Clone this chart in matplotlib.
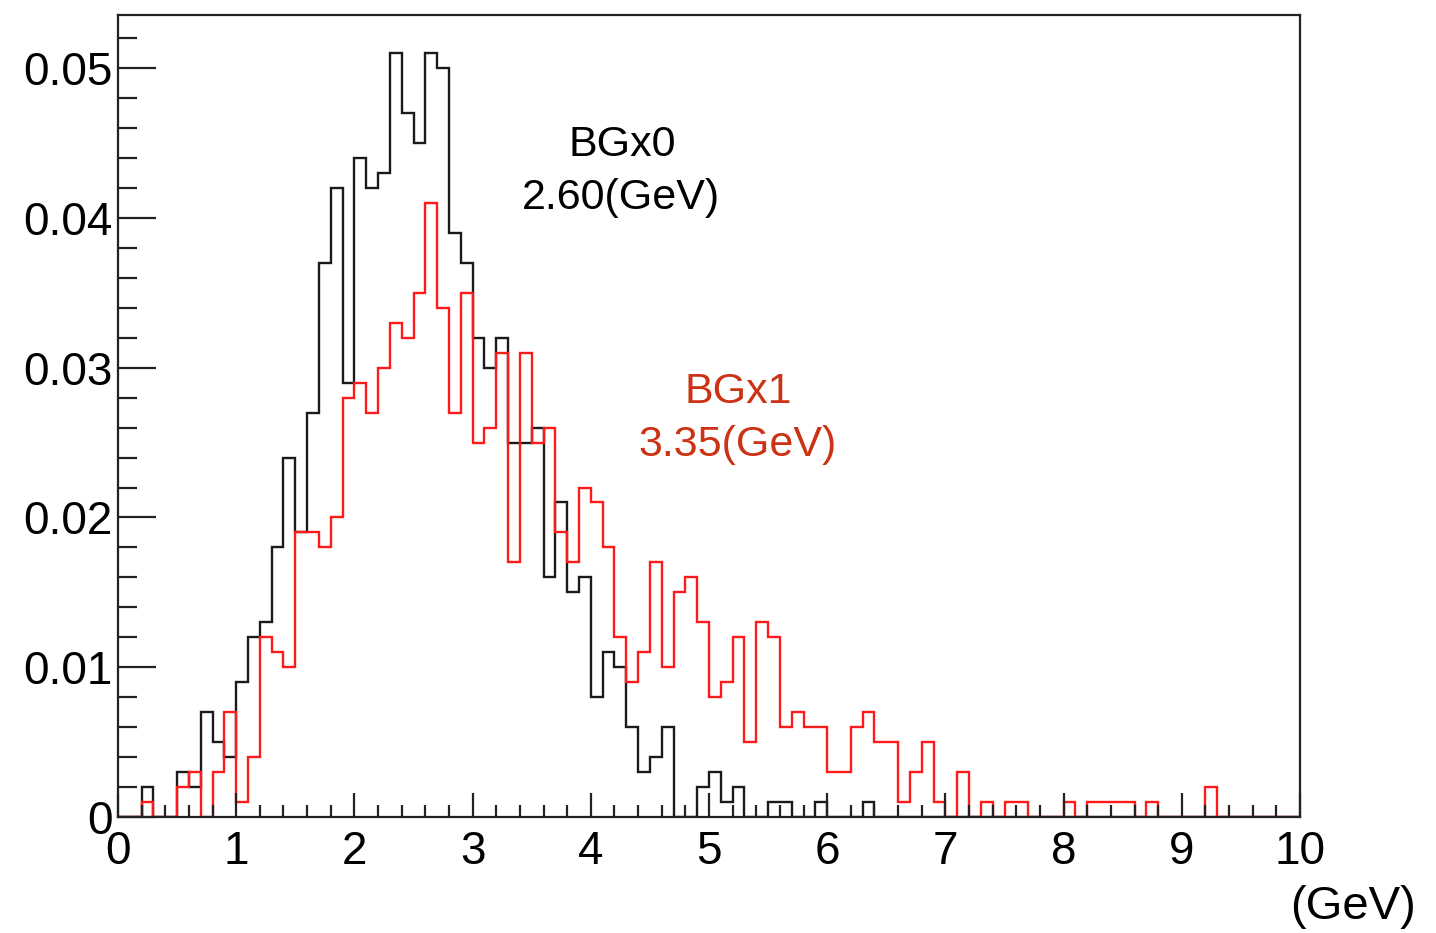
import numpy as np
import matplotlib
matplotlib.use("Agg")
import matplotlib.pyplot as plt
from matplotlib.ticker import MultipleLocator, FixedFormatter, FixedLocator

# Histogram binning: 100 bins of 0.1 GeV on [0, 10]
n_bins = 100
x_range = (0.0, 10.0)

# Normalised bin contents, BG x0 (black)
bg0 = [
    0, 0, 0.002, 0, 0, 0.003, 0.002, 0.007, 0.005, 0.004,
    0.009, 0.012, 0.013, 0.018, 0.024, 0.019, 0.027, 0.037, 0.042, 0.029,
    0.044, 0.042, 0.043, 0.051, 0.047, 0.045, 0.051, 0.050, 0.039, 0.037,
    0.032, 0.030, 0.032, 0.025, 0.025, 0.026, 0.016, 0.021, 0.015, 0.016,
    0.008, 0.011, 0.010, 0.006, 0.003, 0.004, 0.006, 0, 0, 0.002,
    0.003, 0.001, 0.002, 0, 0, 0.001, 0.001, 0, 0, 0.001,
    0, 0, 0, 0.001, 0, 0, 0, 0, 0, 0,
    0, 0, 0, 0, 0, 0, 0, 0, 0, 0,
    0, 0, 0, 0, 0, 0, 0, 0, 0, 0,
    0, 0, 0, 0, 0, 0, 0, 0, 0, 0,
]

# Normalised bin contents, BG x1 (red)
bg1 = [
    0, 0, 0.001, 0, 0, 0.002, 0.003, 0, 0.003, 0.007,
    0.001, 0.004, 0.012, 0.011, 0.010, 0.019, 0.019, 0.018, 0.020, 0.028,
    0.029, 0.027, 0.030, 0.033, 0.032, 0.035, 0.041, 0.034, 0.027, 0.035,
    0.025, 0.026, 0.031, 0.017, 0.031, 0.025, 0.026, 0.019, 0.017, 0.022,
    0.021, 0.018, 0.012, 0.009, 0.011, 0.017, 0.010, 0.015, 0.016, 0.013,
    0.008, 0.009, 0.012, 0.005, 0.013, 0.012, 0.006, 0.007, 0.006, 0.006,
    0.003, 0.003, 0.006, 0.007, 0.005, 0.005, 0.001, 0.003, 0.005, 0.001,
    0, 0.003, 0, 0.001, 0, 0.001, 0.001, 0, 0, 0,
    0.001, 0, 0.001, 0.001, 0.001, 0.001, 0, 0.001, 0, 0,
    0, 0, 0.002, 0, 0, 0, 0, 0, 0, 0,
]

x_tick_labels = ["0", "1", "2", "3", "4", "5", "6", "7", "8", "9", "10"]
y_tick_labels = ["0", "0.01", "0.02", "0.03", "0.04", "0.05"]

label_bg0 = ("BGx0", "2.60(GeV)")
label_bg1 = ("BGx1", "3.35(GeV)")
x_unit = "(GeV)"

plt.rcParams["font.family"] = ["Liberation Sans", "DejaVu Sans"]

W, H = 1436, 933
fig = plt.figure(figsize=(W / 100, H / 100), dpi=100)
L, R, T, B = 118, 1300, 15, 817
ax = fig.add_axes([L / W, 1 - B / H, (R - L) / W, (B - T) / H])

edges = np.linspace(x_range[0], x_range[1], n_bins + 1)
ax.stairs(bg0, edges, baseline=0, fill=False, color="#1a1a1a", lw=1.7)
ax.stairs(bg1, edges, baseline=0, fill=False, color="#ff1a1a", lw=1.7)

ax.set_xlim(*x_range)
ymax = 1.05 * max(max(bg0), max(bg1))
ax.set_ylim(0, ymax)

ax.xaxis.set_major_locator(FixedLocator(np.arange(len(x_tick_labels))))
ax.xaxis.set_major_formatter(FixedFormatter(x_tick_labels))
ax.xaxis.set_minor_locator(MultipleLocator(0.2))
ax.yaxis.set_major_locator(FixedLocator(np.arange(len(y_tick_labels)) * 0.01))
ax.yaxis.set_major_formatter(FixedFormatter(y_tick_labels))
ax.yaxis.set_minor_locator(MultipleLocator(0.002))

for s in ax.spines.values():
    s.set_linewidth(1.6)
    s.set_color("#222222")

ax.tick_params(axis="both", which="both", direction="in", top=False, right=False,
               color="#222222", width=1.6)
ax.tick_params(axis="x", which="major", length=17, labelsize=33, pad=9)
ax.tick_params(axis="x", which="minor", length=8.5)
ax.tick_params(axis="y", which="major", length=27, labelsize=33, pad=4)
ax.tick_params(axis="y", which="minor", length=13.5)

def fx(px):
    return px / W

def fy(py):
    return 1 - py / H

fig.text(fx(622), fy(145), label_bg0[0], color="black", fontsize=31,
         ha="center", va="center")
fig.text(fx(621), fy(198), label_bg0[1], color="black", fontsize=31,
         ha="center", va="center")
fig.text(fx(738), fy(392), label_bg1[0], color="#cc3214", fontsize=31,
         ha="center", va="center")
fig.text(fx(738), fy(445), label_bg1[1], color="#cc3214", fontsize=31,
         ha="center", va="center")
fig.text(fx(1353), fy(907), x_unit, color="black", fontsize=34,
         ha="center", va="center")

fig.savefig("out.png", dpi=100, facecolor="white")
